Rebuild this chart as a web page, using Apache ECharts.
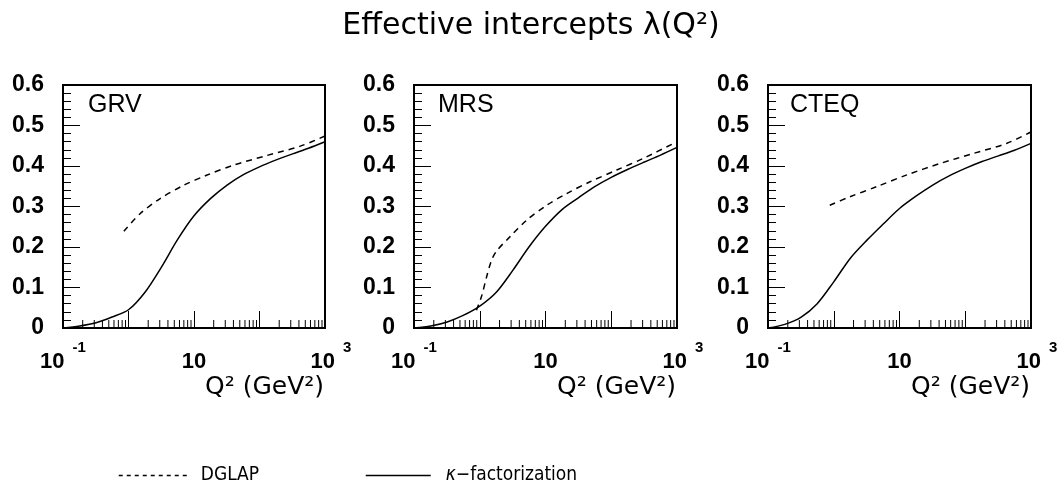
<!DOCTYPE html>
<html>
<head>
<meta charset="utf-8">
<script src="https://cdn.jsdelivr.net/npm/echarts@6/dist/echarts.min.js"></script>
<style>
  html, body { margin: 0; padding: 0; background: #fff; }
  #main { width: 1062px; height: 495px; }
</style>
</head>
<body>
<div id="main"></div>
<script>
// values: Q^2 in GeV^2, lambda(Q^2)
const grvKappaQ = [0.1, 0.18, 0.32, 0.56, 1, 1.8, 3.2, 5.6, 10, 18, 32, 56, 100, 180, 320, 560, 1000];
const grvKappaL = [0.0, 0.005, 0.013, 0.027, 0.045, 0.089, 0.151, 0.218, 0.277, 0.32, 0.353, 0.378, 0.398, 0.415, 0.43, 0.444, 0.46];
const grvDglapQ = [0.85, 1.5, 3.0, 6.9, 15.5, 40, 130, 420, 1000];
const grvDglapL = [0.239, 0.282, 0.319, 0.352, 0.377, 0.402, 0.426, 0.449, 0.474];

const mrsKappaQ = [0.1, 0.18, 0.32, 0.56, 1, 1.8, 3.2, 5.6, 10, 18, 32, 56, 100, 180, 320, 560, 1000];
const mrsKappaL = [0.0, 0.005, 0.015, 0.031, 0.054, 0.089, 0.143, 0.2, 0.251, 0.293, 0.322, 0.349, 0.372, 0.392, 0.41, 0.427, 0.446];
const mrsDglapQ = [0.89, 1.06, 1.27, 1.51, 1.8, 2.87, 5.15, 10.4, 21, 47.5, 121, 309, 1000];
const mrsDglapL = [0.044, 0.077, 0.126, 0.167, 0.19, 0.225, 0.266, 0.303, 0.332, 0.361, 0.39, 0.419, 0.46];

const cteqKappaQ = [0.1, 0.18, 0.32, 0.56, 1, 1.8, 3.2, 5.6, 10, 18, 32, 56, 100, 180, 320, 560, 1000];
const cteqKappaL = [0.0, 0.009, 0.027, 0.06, 0.114, 0.173, 0.217, 0.256, 0.295, 0.326, 0.353, 0.375, 0.394, 0.411, 0.425, 0.439, 0.456];
const cteqDglapQ = [0.87, 1.76, 4.5, 12.9, 41, 133, 430, 1000];
const cteqDglapL = [0.303, 0.324, 0.349, 0.378, 0.406, 0.431, 0.456, 0.484];

const panelNames = ['GRV', 'MRS', 'CTEQ'];
const seriesNames = ['DGLAP', 'κ−factorization'];
// minor ticks of the log axis (2..9 of each decade)
const minorQ = [0.2, 0.3, 0.4, 0.5, 0.6, 0.7, 0.8, 0.9,
                2, 3, 4, 5, 6, 7, 8, 9,
                20, 30, 40, 50, 60, 70, 80, 90,
                200, 300, 400, 500, 600, 700, 800, 900];

function pairs(xs, ys) {
  return xs.map(function (x, i) { return [x, ys[i]]; });
}

var chartDom = document.getElementById('main');
var myChart = echarts.init(chartDom);
var option;

var grids = [
  { left: 63, top: 85, width: 262, height: 243 },
  { left: 414, top: 85, width: 263, height: 243 },
  { left: 768, top: 85, width: 263, height: 243 }
];
var labelLeft = [88, 438, 790];
var curves = [
  [pairs(grvDglapQ, grvDglapL), pairs(grvKappaQ, grvKappaL)],
  [pairs(mrsDglapQ, mrsDglapL), pairs(mrsKappaQ, mrsKappaL)],
  [pairs(cteqDglapQ, cteqDglapL), pairs(cteqKappaQ, cteqKappaL)]
];

function xLabel(v) {
  var e = Math.round(Math.log10(v));
  if (e === -1) return '{b|10}{s|-1}';
  if (e === 1) return '{b|10}';
  if (e === 3) return '{c|10}{s|3}';
  return '';
}

var boldFont = 'Liberation Sans';
var thinFont = 'DejaVu Sans';
var legendFont = "'DejaVu Sans Condensed', 'DejaVu Sans'";

var xAxes = [], yAxes = [], series = [];
var titles = [{
  text: 'Effective intercepts λ(Q²)',
  left: 'center',
  top: 6,
  textStyle: { fontFamily: thinFont, fontSize: 30, fontWeight: 'normal', color: '#000' }
}];

for (var i = 0; i < 3; i++) {
  xAxes.push({
    type: 'log',
    logBase: 10,
    gridIndex: i,
    min: 0.1,
    max: 1000,
    name: 'Q² (GeV²)',
    nameLocation: 'end',
    nameGap: -120,
    nameMoveOverlap: false,
    nameTextStyle: {
      fontFamily: thinFont, fontSize: 25, color: '#000',
      align: 'left', verticalAlign: 'top', padding: [47, 0, 0, 0]
    },
    axisLine: { show: true, lineStyle: { color: '#000', width: 2 } },
    axisTick: { show: true, inside: true, length: 17, lineStyle: { color: '#000', width: 1 } },
    splitLine: { show: false },
    axisLabel: {
      margin: 12,
      formatter: xLabel,
      color: '#000',
      rich: {
        b: { fontFamily: boldFont, fontWeight: 'bold', fontSize: 22, lineHeight: 33, verticalAlign: 'bottom' },
        c: { fontFamily: boldFont, fontWeight: 'bold', fontSize: 22, lineHeight: 33, verticalAlign: 'bottom', padding: [0, 0, 0, 12] },
        s: { fontFamily: boldFont, fontWeight: 'bold', fontSize: 15, verticalAlign: 'top', padding: [0, 0, 0, 8] }
      }
    }
  });
  yAxes.push({
    type: 'value',
    gridIndex: i,
    min: 0,
    max: 0.6,
    interval: 0.1,
    axisLine: { show: true, lineStyle: { color: '#000', width: 2 } },
    axisTick: { show: true, inside: true, length: 17, lineStyle: { color: '#000', width: 1 } },
    minorTick: { show: true, splitNumber: 5, length: 8, lineStyle: { color: '#000', width: 1 } },
    splitLine: { show: false },
    axisLabel: { margin: 19, fontFamily: boldFont, fontWeight: 'bold', fontSize: 23, color: '#000' }
  });
  titles.push({
    text: panelNames[i],
    left: labelLeft[i],
    top: 93,
    padding: 0,
    textStyle: { fontFamily: boldFont, fontSize: 25, fontWeight: 'normal', color: '#000' }
  });
  series.push({
    name: seriesNames[0],
    type: 'line',
    xAxisIndex: i,
    yAxisIndex: i,
    data: curves[i][0],
    smooth: 0.3,
    symbol: 'none',
    lineStyle: { color: '#000', width: 1.5, type: [6, 5] },
    itemStyle: { color: '#000' }
  });
  series.push({
    name: seriesNames[1],
    type: 'line',
    xAxisIndex: i,
    yAxisIndex: i,
    data: curves[i][1],
    smooth: 0.3,
    symbol: 'none',
    lineStyle: { color: '#000', width: 1.5 },
    itemStyle: { color: '#000' }
  });
  series.push({
    type: 'custom',
    xAxisIndex: i,
    yAxisIndex: i,
    silent: true,
    clip: false,
    data: minorQ.map(function (q) { return [q, 0]; }),
    renderItem: function (params, api) {
      var p = api.coord([api.value(0), 0]);
      return {
        type: 'line',
        shape: { x1: p[0], y1: p[1], x2: p[0], y2: p[1] - 8 },
        style: { stroke: '#000', lineWidth: 1 }
      };
    }
  });
}

option = {
  animation: false,
  color: ['#000'],
  title: titles,
  grid: grids.map(function (g) {
    return Object.assign({
      show: true, borderColor: '#000', borderWidth: 2,
      backgroundColor: 'transparent', outerBoundsMode: 'none', containLabel: false
    }, g);
  }),
  xAxis: xAxes,
  yAxis: yAxes,
  legend: [
    {
      data: [seriesNames[0]],
      left: 113,
      top: 461,
      itemWidth: 70,
      itemHeight: 14,
      selectedMode: false,
      itemStyle: { opacity: 0 },
      lineStyle: { type: [4, 4], width: 1.5, color: '#000' },
      textStyle: { fontFamily: legendFont, fontSize: 19, color: '#000', padding: [0, 0, 0, 7] }
    },
    {
      data: [seriesNames[1]],
      left: 360,
      top: 461,
      itemWidth: 65,
      itemHeight: 14,
      selectedMode: false,
      itemStyle: { opacity: 0 },
      lineStyle: { width: 1.5, color: '#000' },
      formatter: function () { return '{i|κ}−factorization'; },
      textStyle: {
        fontFamily: legendFont, fontSize: 19, color: '#000', padding: [0, 0, 0, 10],
        rich: { i: { fontFamily: legendFont, fontSize: 19, fontStyle: 'italic', color: '#000' } }
      }
    }
  ],
  series: series
};

option && myChart.setOption(option);
</script>
</body>
</html>
